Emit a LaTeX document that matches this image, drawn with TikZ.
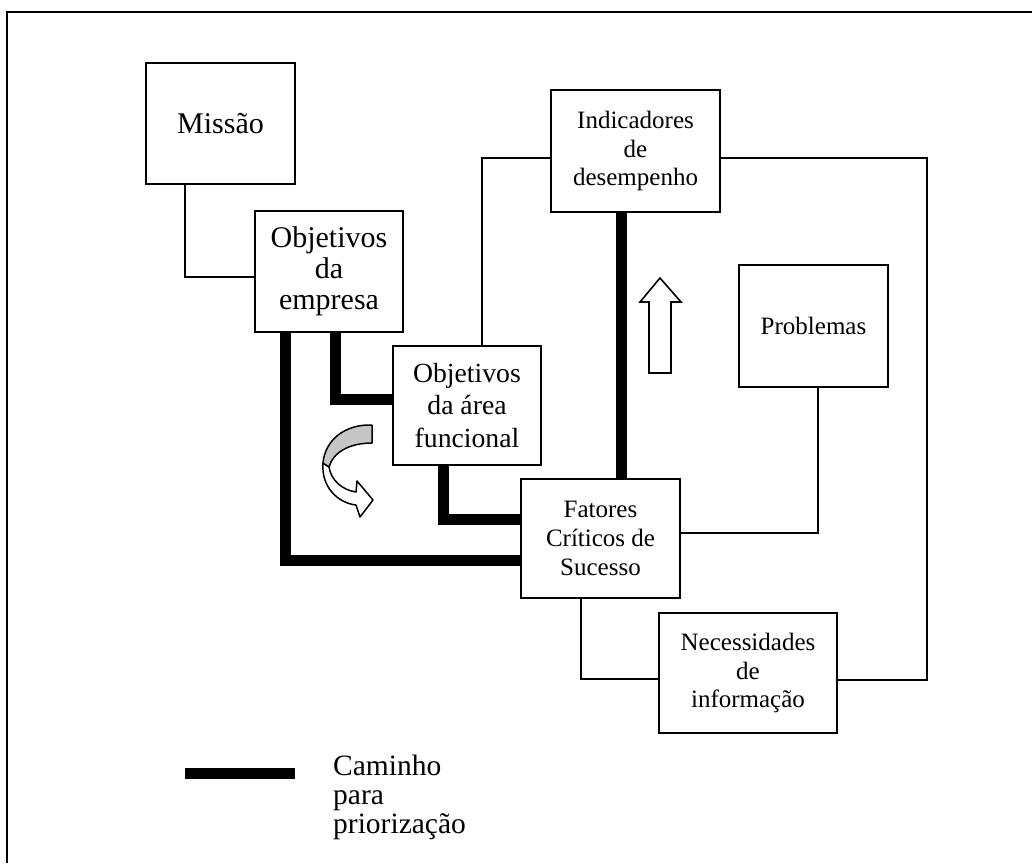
\documentclass[tikz,border=0pt]{standalone}
\usepackage{fontspec}
\setmainfont{Liberation Serif}
\begin{document}
\begin{tikzpicture}[x=1pt,y=-1pt,
  box/.style={draw, line width=1.8pt, fill=white, inner sep=0pt, align=center},
  big/.style={font=\fontsize{30}{31}\selectfont},
  mid/.style={font=\fontsize{27.7}{32.5}\selectfont},
  small/.style={font=\fontsize{25}{28.8}\selectfont},
  conn/.style={line width=1.6pt, line join=miter},
  prio/.style={line width=11pt, line join=miter, line cap=butt}]
\useasboundingbox (0,0) rectangle (1032,863);
\fill[white] (0,0) rectangle (1032,863);

% outer frame (top and left edges)
\draw[line width=1.8pt] (7,863) -- (7,12) -- (1032,12);

% boxes
\node[box, big, minimum width=149pt, minimum height=121pt] (miss) at (220.5,123.5) {Missão};
\node[box, big, minimum width=148pt, minimum height=121pt] (emp) at (329,271.5) {Objetivos\\da\\empresa};
\node[box, small, minimum width=169pt, minimum height=122pt] (ind) at (635.5,151) {Indicadores\\de\\desempenho};
\node[box, mid, minimum width=148pt, minimum height=119pt] (area) at (467,405.5) {Objetivos\\da área\\funcional};
\node[box, small, minimum width=149pt, minimum height=122pt] (prob) at (813.5,326) {Problemas};
\node[box, small, minimum width=159pt, minimum height=119pt] (fcs) at (600.5,538.5) {Fatores\\Críticos de\\Sucesso};
\node[box, small, minimum width=178pt, minimum height=120pt] (nec) at (748,673) {Necessidades\\de\\informação};

% thin connectors
\draw[conn] (miss.south -| 185,0) |- (emp.west |- 0,277);
\draw[conn] (ind.west |- 0,158) -| (area.north -| 482,0);
\draw[conn] (ind.east |- 0,158) -| (927,680) -- (nec.east |- 0,680);
\draw[conn] (fcs.south -| 581,0) |- (nec.west |- 0,679);
\draw[conn] (fcs.east |- 0,533) -| (prob.south -| 818,0);

% priorisation paths
\draw[prio] (emp.south -| 285,0) |- (fcs.west |- 0,560);
\draw[prio] (emp.south -| 335,0) |- (area.west |- 0,399);
\draw[prio] (area.south -| 443,0) |- (fcs.west |- 0,519);
\draw[prio] (ind.south -| 621,0) -- (fcs.north -| 621,0);

% upward block arrow
\draw[line width=1.6pt, line join=miter, fill=white]
  (649,373) -- (649,302) -- (640,302) -- (660,278) -- (681,302) -- (671,302) -- (671,373) -- cycle;

% curved ribbon arrow
\draw[line width=1.5pt, line join=round, fill=white]
  (323,463) .. controls (321,487) and (338,503) .. (356,505)
  -- (360,517) -- (373,500) -- (357,481) -- (356,492)
  .. controls (342,490) and (331,480) .. (329,467) -- cycle;
\draw[line width=1.5pt, line join=round, fill=gray!45]
  (372,425) .. controls (345,424) and (325,440) .. (323,463)
  -- (329,467) .. controls (333,452) and (350,443) .. (372,443) -- cycle;

% legend
\coordinate (lega) at (185,773.5);
\coordinate (legb) at (295,773.5);
\draw[prio] (lega) -- (legb);
\node[anchor=west, align=left, inner sep=0pt, font=\fontsize{29.5}{29}\selectfont] (legtxt) at (333,797) {Caminho\\para\\priorização};
\end{tikzpicture}
\end{document}
